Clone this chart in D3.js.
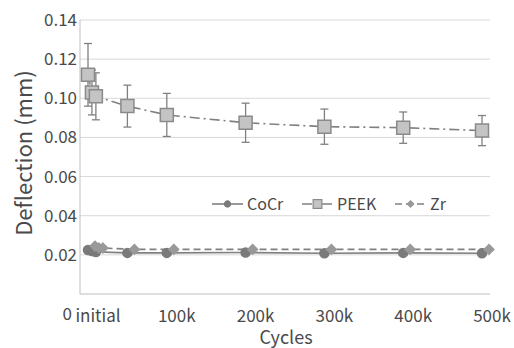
<!DOCTYPE html>
<html>
<head>
    <meta charset='utf-8'>
    <title>Deflection vs Cycles</title>
    <style>
        body { margin: 0; background: #fff; }
        svg { display: block; }
    </style>
</head>
<body>
<svg width="514" height="348"></svg>
<script src="https://d3js.org/d3.v7.min.js"></script>
<script>
    const width = 514
    const height = 348

    // data
    const cycles = [0, 5000, 10000, 50000, 100000, 200000, 300000, 400000, 500000]
    const cocr = [0.0225, 0.0220, 0.0215, 0.0210, 0.0210, 0.0212, 0.0208, 0.0210, 0.0208]
    const peek = [0.112, 0.103, 0.101, 0.096, 0.0915, 0.0875, 0.0855, 0.085, 0.0835]
    const peekErr = [0.016, 0.0115, 0.012, 0.0107, 0.011, 0.010, 0.009, 0.008, 0.0077]
    const zr = [0.0245, 0.0235, 0.0235, 0.0228, 0.0228, 0.0228, 0.0228, 0.0228, 0.0228]
    const xTicks = [0, 100000, 200000, 300000, 400000, 500000]
    const xTickLabels = ["initial", "100k", "200k", "300k", "400k", "500k"]
    const yTicks = [0, 0.02, 0.04, 0.06, 0.08, 0.10, 0.12, 0.14]

    const font = "'Noto Sans CJK JP', 'Noto Sans', sans-serif"
    const grey = "#808080"
    const textColor = "#4a4a4a"

    const plot = {left: 80, right: 490, top: 20, bottom: 294}

    const x = d3.scaleLinear().domain([0, 500000]).range([88, 482])
    const y = d3.scaleLinear().domain([0, 0.14]).range([plot.bottom, plot.top])

    const svg = d3.select("svg")
        .attr("viewBox", [0, 0, width, height])
        .style("font-family", font)

    // grid lines
    svg.append("g")
        .selectAll("line")
        .data(yTicks.filter(d => d > 0))
        .join("line")
        .attr("x1", plot.left)
        .attr("x2", plot.right)
        .attr("y1", d => y(d))
        .attr("y2", d => y(d))
        .attr("stroke", "#d9d9d9")
        .attr("stroke-width", 1)

    // axis lines
    svg.append("line")
        .attr("x1", plot.left).attr("x2", plot.right)
        .attr("y1", y(0)).attr("y2", y(0))
        .attr("stroke", "#bfbfbf")
    svg.append("line")
        .attr("x1", plot.left).attr("x2", plot.left)
        .attr("y1", y(0.14)).attr("y2", y(0))
        .attr("stroke", "#bfbfbf")

    // y tick labels (the zero sits low, next to "initial")
    svg.append("g")
        .attr("fill", textColor)
        .attr("font-size", 17)
        .attr("text-anchor", "end")
        .selectAll("text")
        .data(yTicks)
        .join("text")
        .attr("x", d => d === 0 ? plot.left - 8 : plot.left - 3)
        .attr("y", d => d === 0 ? y(d) + 20 : y(d))
        .attr("dy", "0.35em")
        .text(d => d === 0 ? "0" : d.toFixed(2))

    // x tick labels
    svg.append("g")
        .attr("fill", textColor)
        .attr("font-size", 17)
        .attr("text-anchor", "middle")
        .selectAll("text")
        .data(xTicks)
        .join("text")
        .attr("x", d => x(d) + 10)
        .attr("y", y(0) + 28)
        .text((d, i) => xTickLabels[i])

    // axis titles
    svg.append("text")
        .attr("x", 286)
        .attr("y", 344)
        .attr("text-anchor", "middle")
        .attr("font-size", 18)
        .attr("fill", textColor)
        .text("Cycles")

    svg.append("text")
        .attr("transform", "translate(32,153) rotate(-90)")
        .attr("text-anchor", "middle")
        .attr("font-size", 22)
        .attr("fill", textColor)
        .text("Deflection (mm)")

    const series = [
        {name: "CoCr", values: cocr, dash: null, shape: d3.symbolCircle, size: 64, fill: "#7a7a7a", stroke: "#7a7a7a", dx: 0},
        {name: "PEEK", values: peek, dash: "10,4,2,4", shape: d3.symbolSquare, size: 169, fill: "#c4c4c4", stroke: "#8a8a8a", dx: 0},
        {name: "Zr", values: zr, dash: "7,4", shape: d3.symbolDiamond2, size: 60, fill: "#999", stroke: "#999", dx: 7}
    ]

    const line = (s) => d3.line()
        .x((d, i) => x(cycles[i]) + s.dx)
        .y(d => y(d))

    // lines
    series.forEach(s => {
        svg.append("path")
            .datum(s.values)
            .attr("fill", "none")
            .attr("stroke", grey)
            .attr("stroke-width", 1.6)
            .attr("stroke-dasharray", s.dash)
            .attr("d", line(s))
    })

    // PEEK error bars
    const err = svg.append("g")
        .attr("stroke", grey)
        .attr("stroke-width", 1.3)
        .selectAll("g")
        .data(peek)
        .join("g")
    err.append("line")
        .attr("x1", (d, i) => x(cycles[i]))
        .attr("x2", (d, i) => x(cycles[i]))
        .attr("y1", (d, i) => y(d + peekErr[i]))
        .attr("y2", (d, i) => y(d - peekErr[i]))
    ;[1, -1].forEach(sign => {
        err.append("line")
            .attr("x1", (d, i) => x(cycles[i]) - 4)
            .attr("x2", (d, i) => x(cycles[i]) + 4)
            .attr("y1", (d, i) => y(d + sign * peekErr[i]))
            .attr("y2", (d, i) => y(d + sign * peekErr[i]))
    })

    // markers
    series.forEach(s => {
        svg.append("g")
            .selectAll("path")
            .data(s.values)
            .join("path")
            .attr("transform", (d, i) => `translate(${x(cycles[i]) + s.dx},${y(d)})`)
            .attr("d", d3.symbol().type(s.shape).size(s.size))
            .attr("fill", s.fill)
            .attr("stroke", s.stroke)
            .attr("stroke-width", 1.5)
    })

    // legend
    const legendX = [212, 302, 395]
    const legendY = 204
    const legend = svg.append("g")
        .selectAll("g")
        .data(series)
        .join("g")
        .attr("transform", (d, i) => `translate(${legendX[i]},${legendY})`)
    legend.append("line")
        .attr("x1", 0).attr("x2", 31)
        .attr("stroke", grey)
        .attr("stroke-width", 1.6)
        .attr("stroke-dasharray", d => d.dash)
    legend.append("path")
        .attr("transform", "translate(15.5,0)")
        .attr("d", d => d3.symbol().type(d.shape).size(d.size * 0.45)())
        .attr("fill", d => d.fill)
        .attr("stroke", d => d.stroke)
        .attr("stroke-width", 1.2)
    legend.append("text")
        .attr("x", 35)
        .attr("dy", "0.35em")
        .attr("font-size", 16)
        .attr("fill", textColor)
        .text(d => d.name)
</script>
</body>
</html>
